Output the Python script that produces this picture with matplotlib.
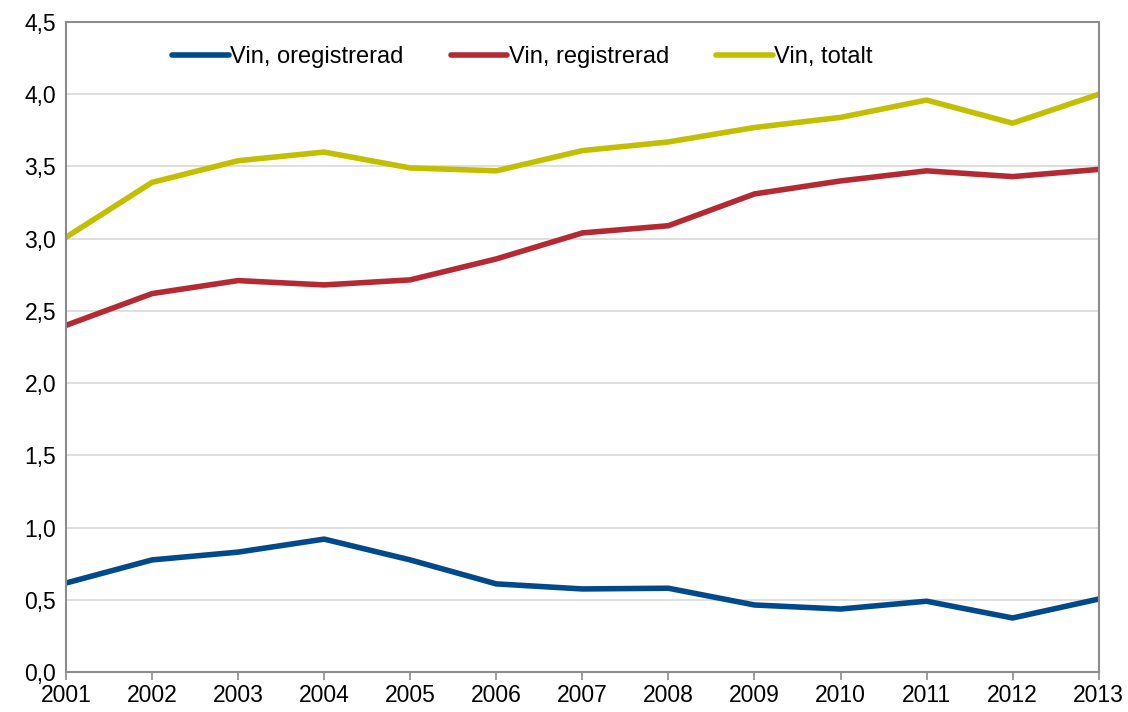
import matplotlib
matplotlib.use('Agg')
import matplotlib.pyplot as plt
from matplotlib.ticker import FuncFormatter

plt.rcParams['font.family'] = ['Liberation Sans', 'DejaVu Sans']

years = list(range(2001, 2014))
oregistrerad = [0.616, 0.776, 0.83, 0.92, 0.776, 0.61, 0.575, 0.58, 0.464, 0.436, 0.49, 0.374, 0.505]
registrerad = [2.40, 2.62, 2.71, 2.68, 2.715, 2.86, 3.04, 3.09, 3.31, 3.40, 3.47, 3.43, 3.48]
totalt = [3.01, 3.39, 3.54, 3.60, 3.49, 3.47, 3.61, 3.67, 3.77, 3.84, 3.96, 3.80, 4.00]

fig = plt.figure(figsize=(11.28, 7.12), dpi=100)
ax = fig.add_axes([0.0585, 0.0562, 0.9155, 0.9128])

ax.plot(years, oregistrerad, color='#004A8C', lw=4, label='Vin, oregistrerad', solid_capstyle='round')
ax.plot(years, registrerad, color='#B52A32', lw=4, label='Vin, registrerad', solid_capstyle='round')
ax.plot(years, totalt, color='#C2BF00', lw=4, label='Vin, totalt', solid_capstyle='round')

ax.set_xlim(2001, 2013)
ax.set_ylim(0, 4.5)
ax.set_xticks(years)
ax.set_yticks([i * 0.5 for i in range(10)])
ax.yaxis.set_major_formatter(FuncFormatter(lambda v, p: f'{v:.1f}'.replace('.', ',')))
ax.grid(axis='y', color='#D9D9D9', lw=1.2)
ax.set_axisbelow(True)
for s in ax.spines.values():
    s.set_color('#8C8C8C')
    s.set_linewidth(1.5)
ax.tick_params(axis='x', length=6, width=1.2, color='#8C8C8C', labelsize=16.5, pad=3)
ax.tick_params(axis='y', length=0, labelsize=16.5, pad=7)

leg = ax.legend(loc='center', bbox_to_anchor=(0.463, 0.92), bbox_transform=fig.transFigure,
                ncol=3, frameon=False, fontsize=17, handlelength=2.4, handletextpad=0.05,
                columnspacing=2.0)

fig.savefig('out.png', dpi=100)
